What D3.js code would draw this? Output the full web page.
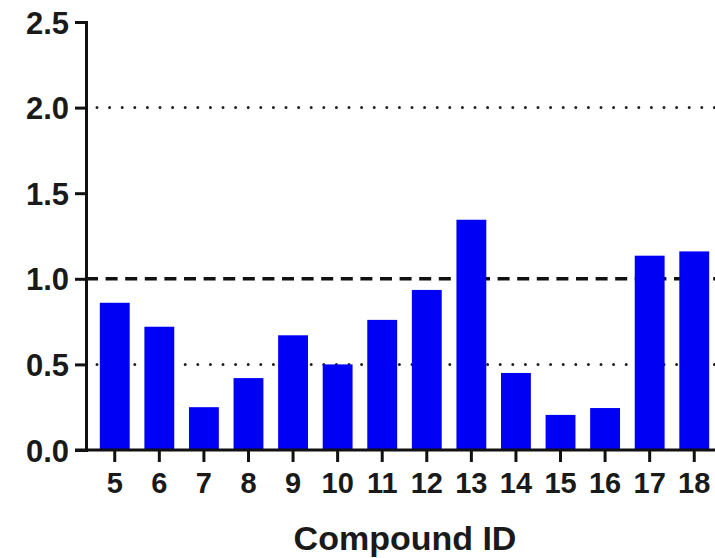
<!DOCTYPE html>
<html>
    <head>
        <meta charset="utf-8">
        <style>
            html, body {
                margin: 0px;
                padding: 0px;
                background-color: #fff;
            }

            svg text {
                font-family: "Liberation Sans", Arial, sans-serif;
                font-weight: bold;
                fill: #1a1a1a;
            }

            .axis .domain, .axis line {
                stroke: #111;
                stroke-width: 3px;
            }

            .axis text {
                font-size: 29px;
            }

            .yaxis text {
                font-size: 31px;
            }

            .title {
                font-size: 34px;
            }
        </style>
        <script src="https://cdn.jsdelivr.net/npm/d3@7"></script>
    </head>
    <body>
        <div id="main"></div>

        <script>
            var compounds = ["5", "6", "7", "8", "9", "10", "11", "12", "13", "14", "15", "16", "17", "18"];
            var ratios = [0.86, 0.72, 0.25, 0.42, 0.67, 0.50, 0.76, 0.935, 1.345, 0.45, 0.205, 0.245, 1.135, 1.16];
            var yTicks = [0, 0.5, 1.0, 1.5, 2.0, 2.5];
            var dottedLevels = [0.5, 2.0];
            var dashedLevels = [1.0];

            var width = 715;
            var height = 558;
            var plotLeft = 86;
            var plotBottom = 450;
            var plotTop = 22;

            function main() {
                var svg = d3.select("#main")
                            .append("svg")
                            .attr("width", width)
                            .attr("height", height);

                var x = d3.scaleBand()
                            .domain(compounds)
                            .range([plotLeft, 723])
                            .paddingInner(0.33)
                            .paddingOuter(0.31);

                var y = d3.scaleLinear()
                            .domain([0, 2.5])
                            .range([plotBottom, plotTop]);

                // reference lines
                svg.selectAll(".dotted")
                    .data(dottedLevels)
                    .enter()
                    .append("line")
                    .attr("x1", plotLeft + 11)
                    .attr("x2", width)
                    .attr("y1", function(d) { return y(d); })
                    .attr("y2", function(d) { return y(d); })
                    .attr("stroke", "#222")
                    .attr("stroke-width", 3)
                    .attr("stroke-linecap", "round")
                    .attr("stroke-dasharray", "0 12.6");

                svg.selectAll(".dashed")
                    .data(dashedLevels)
                    .enter()
                    .append("line")
                    .attr("x1", plotLeft)
                    .attr("x2", width)
                    .attr("y1", function(d) { return y(d); })
                    .attr("y2", function(d) { return y(d); })
                    .attr("stroke", "#111")
                    .attr("stroke-width", 3.5)
                    .attr("stroke-dasharray", "12 7.6");

                svg.selectAll(".bar")
                    .data(ratios)
                    .enter()
                    .append("rect")
                    .attr("class", "bar")
                    .attr("x", function(d, i) { return x(compounds[i]); })
                    .attr("width", x.bandwidth())
                    .attr("y", function(d) { return y(d); })
                    .attr("height", function(d) { return plotBottom - y(d); })
                    .attr("fill", "#0000f5");

                svg.append("g")
                    .attr("class", "axis yaxis")
                    .attr("transform", "translate(" + plotLeft + ",0)")
                    .call(d3.axisLeft(y).tickValues(yTicks).tickFormat(d3.format(".1f")).tickSize(11).tickSizeOuter(11).tickPadding(6))
                    .selectAll("text")
                    .attr("dy", "0.36em");

                var xAxis = svg.append("g")
                    .attr("class", "axis")
                    .attr("transform", "translate(0," + plotBottom + ")")
                    .call(d3.axisBottom(x).tickSize(12).tickSizeOuter(0).tickPadding(10));
                xAxis.select(".domain").attr("d", "M" + (plotLeft - 11) + ",0H" + width);

                svg.append("text")
                    .attr("class", "title")
                    .attr("x", 405)
                    .attr("y", 550)
                    .style("text-anchor", "middle")
                    .text("Compound ID");
            }

            main();
        </script>
    </body>
</html>
